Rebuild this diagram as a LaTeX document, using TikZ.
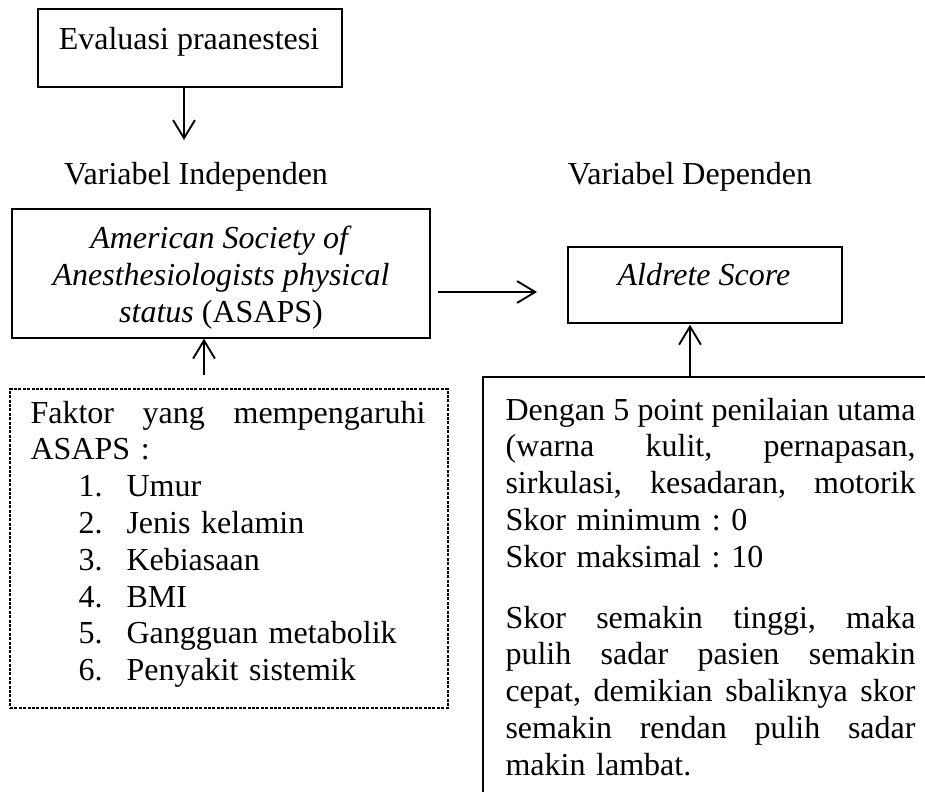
\documentclass[tikz,border=0pt]{standalone}
\usepackage{fontspec}
\setmainfont{Liberation Serif}
\usetikzlibrary{arrows.meta}
\frenchspacing
% justified single line of given width
\newcommand\jline[2]{\leavevmode{\spaceskip=0.25em plus 3em minus 0.06em\xspaceskip=\spaceskip\hbox to #1{#2}}}
\newcommand\fjl[1]{\jline{148.125pt}{#1}}
\newcommand\sjl[1]{\jline{153.75pt}{#1}}
\newcommand\litem[2]{\hspace*{18pt}\makebox[18pt][l]{#1}#2}
\begin{document}
\begin{tikzpicture}[x=0.375pt,y=-0.375pt,
  font=\fontsize{12}{13.8}\selectfont\frenchspacing,
  boxshape/.style={draw, line width=0.5pt, inner sep=0pt, rectangle},
  txt/.style={inner sep=0pt, anchor=base},
  arr/.style={line width=0.7pt, -{Straight Barb[length=6.8pt,width=8.2pt]}},
  dashbox/.style={draw, line width=0.45pt, dash pattern=on 1.1pt off 0.55pt, inner sep=0pt, rectangle}]
\useasboundingbox (0,0) rectangle (925,792);

% boxes
\node[boxshape, minimum width=114pt, minimum height=29.25pt] (eval) at (190,48) {};
\node[boxshape, minimum width=156.75pt, minimum height=48.375pt] (asaps) at (221,273.5) {};
\node[boxshape, minimum width=102.75pt, minimum height=28.5pt] (aldrete) at (705,285) {};
\node[dashbox, minimum width=164.25pt, minimum height=119.625pt] (faktor) at (229,548.5) {};
\draw[line width=0.5pt] (925,377) -| (483,792);

% texts
\node[txt] (evaltxt) at (189,50) {Evaluasi praanestesi};
\node[txt] (vind) at (196,184) {Variabel Independen};
\node[txt] (vdep) at (690,184) {Variabel Dependen};
\node[txt, align=center] (asapstxt) at (221,322) {\textit{American Society of}\\ \textit{Anesthesiologists physical}\\ \textit{status} (ASAPS)};
\node[txt] (aldretetxt) at (704,285) {\textit{Aldrete Score}};

\node[txt, anchor=base west, text width=148.125pt, align=left] (faktortxt) at (30,423) {%
\fjl{Faktor yang mempengaruhi}\\
ASAPS :\\
\litem{1.}{Umur}\\
\litem{2.}{Jenis kelamin}\\
\litem{3.}{Kebiasaan}\\
\litem{4.}{BMI}\\
\litem{5.}{Gangguan metabolik}\\
\litem{6.}{Penyakit sistemik}};

\node[txt, anchor=base west, text width=153.75pt, align=left] (scoretxt) at (505,420) {%
\sjl{Dengan 5 point penilaian utama}\\
\sjl{(warna kulit, pernapasan,}\\
\sjl{sirkulasi, kesadaran, motorik}\\
Skor minimum : 0\\
Skor maksimal : 10\\[9pt]
\sjl{Skor semakin tinggi, maka}\\
\sjl{pulih sadar pasien semakin}\\
\sjl{cepat, demikian sbaliknya skor}\\
\sjl{semakin rendan pulih sadar}\\
makin lambat.};

% connectors
\coordinate (e1) at (184,140);
\draw[arr] (eval.south -| e1) -- (e1);
\coordinate (h1) at (438,292);
\coordinate (h2) at (537,292);
\draw[arr] (h1) -- (h2);
\coordinate (u1) at (204,375);
\draw[arr] (u1) -- (asaps.south -| u1);
\coordinate (rbtop) at (690,377);
\draw[arr] (rbtop) -- ([yshift=-0.4pt]aldrete.south -| rbtop);
\end{tikzpicture}
\end{document}
